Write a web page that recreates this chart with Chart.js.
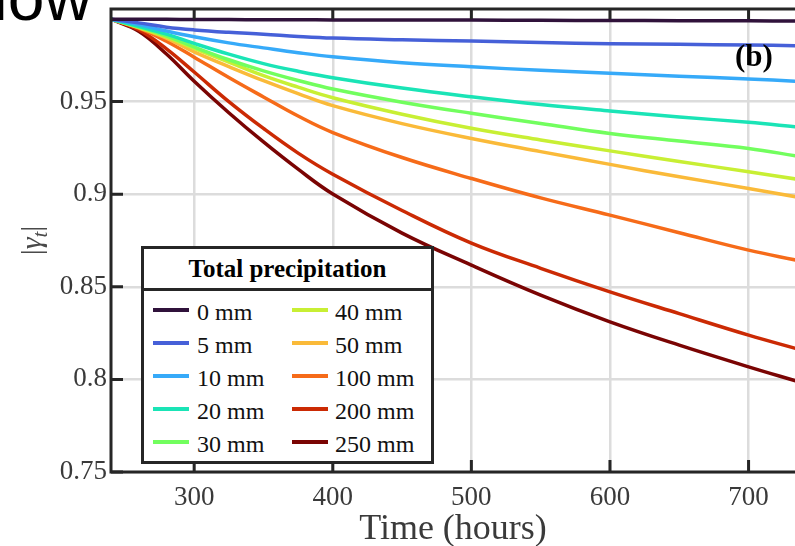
<!DOCTYPE html>
<html>
<head>
<meta charset="utf-8">
<script src="https://cdn.jsdelivr.net/npm/chart.js@4.4.1/dist/chart.umd.min.js"></script>
<style>
  body { margin: 0; background: #fff; overflow: hidden; }
  #wrap { position: relative; width: 795px; height: 546px; overflow: hidden; }
  #cut { position: absolute; left: -7px; top: -36px; font: 66px/66px "Liberation Sans", Arial, sans-serif; color: #000; }
  #legend { position: absolute; left: 141px; top: 246px; width: 287px; height: 212px;
            border: 3px solid #262626; background: #fff; font-family: "Liberation Serif", "Times New Roman", serif; }
  #legend .ttl { position: absolute; left: 0; top: 0; width: 100%; height: 39px; border-bottom: 3px solid #262626;
                 font-weight: bold; font-size: 25px; line-height: 39px; text-align: center; color: #000; }
  #legend .sw { position: absolute; width: 36px; height: 4px; }
  #legend .lb { position: absolute; font-size: 24px; line-height: 24px; color: #111; white-space: nowrap; }
</style>
</head>
<body>
<div id="wrap">
  <div id="cut">low</div>
  <canvas id="chart" width="795" height="546"></canvas>
  <div id="legend"></div>
</div>
<script>
// time axis (hours) shared by every curve
const hours = [240, 260, 280, 300, 325, 350, 375, 400, 450, 500, 550, 600, 650, 700, 735];

// |gamma_t|, one array per total precipitation
const gamma0mm   = [0.9945, 0.9944, 0.9944, 0.9943, 0.9943, 0.9942, 0.9942, 0.9941, 0.9940, 0.9940, 0.9939, 0.9938, 0.9937, 0.9936, 0.9935];
const gamma5mm   = [0.9945, 0.9925, 0.9902, 0.9887, 0.9874, 0.9864, 0.9852, 0.9843, 0.9834, 0.9827, 0.9819, 0.9813, 0.9809, 0.9806, 0.9802];
const gamma10mm  = [0.9945, 0.9916, 0.9881, 0.9850, 0.9817, 0.9790, 0.9764, 0.9742, 0.9710, 0.9688, 0.9669, 0.9653, 0.9637, 0.9622, 0.9610];
const gamma20mm  = [0.9945, 0.9906, 0.9864, 0.9814, 0.9756, 0.9705, 0.9664, 0.9629, 0.9573, 0.9526, 0.9484, 0.9449, 0.9417, 0.9388, 0.9363];
const gamma30mm  = [0.9945, 0.9903, 0.9855, 0.9795, 0.9726, 0.9666, 0.9614, 0.9568, 0.9497, 0.9437, 0.9382, 0.9328, 0.9287, 0.9247, 0.9206];
const gamma40mm  = [0.9945, 0.9901, 0.9850, 0.9787, 0.9713, 0.9640, 0.9578, 0.9521, 0.9432, 0.9356, 0.9293, 0.9234, 0.9177, 0.9121, 0.9081];
const gamma50mm  = [0.9945, 0.9899, 0.9843, 0.9768, 0.9689, 0.9613, 0.9543, 0.9478, 0.9381, 0.9301, 0.9230, 0.9161, 0.9094, 0.9031, 0.8985];
const gamma100mm = [0.9945, 0.9897, 0.9826, 0.9740, 0.9630, 0.9525, 0.9422, 0.9333, 0.9198, 0.9085, 0.8980, 0.8887, 0.8792, 0.8698, 0.8643];
const gamma200mm = [0.9945, 0.9888, 0.9785, 0.9660, 0.9500, 0.9355, 0.9222, 0.9108, 0.8912, 0.8736, 0.8600, 0.8473, 0.8355, 0.8239, 0.8165];
const gamma250mm = [0.9945, 0.9880, 0.9757, 0.9610, 0.9440, 0.9282, 0.9135, 0.9001, 0.8790, 0.8617, 0.8455, 0.8311, 0.8185, 0.8068, 0.7990];

const seriesLabels = ['0 mm', '5 mm', '10 mm', '20 mm', '30 mm', '40 mm', '50 mm', '100 mm', '200 mm', '250 mm'];
const seriesValues = [gamma0mm, gamma5mm, gamma10mm, gamma20mm, gamma30mm, gamma40mm, gamma50mm, gamma100mm, gamma200mm, gamma250mm];

const xTicks = [300, 400, 500, 600, 700];
const yTicks = [0.75, 0.8, 0.85, 0.9, 0.95];

// turbo-like colours, same order as the labels
const lineColors = ['#30123b', '#4660d8', '#36aaf9', '#1ae4b6', '#72fe5e', '#c8ef34', '#faba39', '#f66b19', '#cb2a04', '#7a0403'];

const SERIF = '"Liberation Serif", "Times New Roman", serif';
const AXIS = '#262626';

// frame, inward ticks, y title and panel tag
const framePlugin = {
    id: 'frame',
    afterDraw(chart) {
        const { ctx, chartArea: a } = chart;
        const xs = chart.scales.x, ys = chart.scales.y;
        ctx.save();
        ctx.strokeStyle = AXIS;
        ctx.lineWidth = 3;
        ctx.beginPath();
        ctx.moveTo(a.right + 2, a.top);
        ctx.lineTo(a.left, a.top);
        ctx.lineTo(a.left, a.bottom);
        ctx.lineTo(a.right + 2, a.bottom);
        ctx.stroke();
        ctx.beginPath();
        xTicks.forEach(v => {
            const px = xs.getPixelForValue(v);
            ctx.moveTo(px, a.bottom); ctx.lineTo(px, a.bottom - 12);
            ctx.moveTo(px, a.top); ctx.lineTo(px, a.top + 10);
        });
        yTicks.forEach(v => {
            const py = ys.getPixelForValue(v);
            ctx.moveTo(a.left, py); ctx.lineTo(a.left + 12, py);
        });
        ctx.stroke();

        // y axis title |γ_t|
        ctx.translate(32, (a.top + a.bottom) / 2);
        ctx.rotate(-Math.PI / 2);
        ctx.fillStyle = '#4a4a4a';
        ctx.textBaseline = 'alphabetic';
        const parts = [
            { t: '|', f: '30px ' + SERIF, dy: 0 },
            { t: 'γ', f: 'italic 30px ' + SERIF, dy: 0 },
            { t: 't', f: 'italic 21px ' + SERIF, dy: 6 },
            { t: '|', f: '30px ' + SERIF, dy: 0 }
        ];
        let w = 0;
        parts.forEach(p => { ctx.font = p.f; p.w = ctx.measureText(p.t).width; w += p.w; });
        let x = -w / 2;
        parts.forEach(p => { ctx.font = p.f; ctx.fillText(p.t, x, 9 + p.dy); x += p.w; });
        ctx.restore();

        // panel tag
        ctx.save();
        ctx.font = 'bold 31px ' + SERIF;
        ctx.fillStyle = '#000';
        ctx.fillText('(b)', 735, 66);
        ctx.restore();
    }
};

const chart = new Chart(document.getElementById('chart'), {
    type: 'line',
    data: {
        datasets: seriesValues.map((vals, i) => ({
            label: seriesLabels[i],
            data: hours.map((t, j) => ({ x: t, y: vals[j] })),
            borderColor: lineColors[i],
            backgroundColor: lineColors[i],
            borderWidth: 3.5,
            pointRadius: 0,
            tension: 0.4,
            fill: false
        }))
    },
    options: {
        responsive: false,
        animation: false,
        layout: { padding: { top: 9, left: 0, right: 0, bottom: 0 } },
        plugins: {
            legend: { display: false },
            tooltip: { enabled: false }
        },
        scales: {
            x: {
                type: 'linear',
                min: 240,
                max: 733.5,
                afterBuildTicks: s => { s.ticks = xTicks.map(v => ({ value: v })); },
                afterFit: s => { s.height = 74; s.paddingLeft = 0; s.paddingRight = 0; },
                grid: { color: '#dcdcdc', lineWidth: 2.5, drawTicks: false },
                border: { display: false },
                ticks: { color: '#3a3a3a', font: { family: SERIF, size: 27 }, padding: 10, maxRotation: 0, autoSkip: false },
                title: { display: true, text: 'Time (hours)', color: '#3a3a3a', font: { family: SERIF, size: 36 }, padding: { top: 0, bottom: -5 } }
            },
            y: {
                min: 0.75,
                max: 1.0,
                afterBuildTicks: s => { s.ticks = yTicks.map(v => ({ value: v })); },
                afterFit: s => { s.width = 111; s.paddingTop = 0; s.paddingBottom = 0; },
                grid: { color: '#dcdcdc', lineWidth: 2.5, drawTicks: false },
                border: { display: false },
                ticks: { color: '#3a3a3a', font: { family: SERIF, size: 27 }, padding: 4, callback: v => String(v) }
            }
        }
    },
    plugins: [framePlugin]
});

// legend box drawn over the plot, built from the datasets
const legend = document.getElementById('legend');
const ttl = document.createElement('div');
ttl.className = 'ttl';
ttl.textContent = 'Total precipitation';
legend.appendChild(ttl);
chart.data.datasets.forEach((ds, i) => {
    const col = Math.floor(i / 5), row = i % 5;
    const cy = 61 + 33 * row;
    const sw = document.createElement('div');
    sw.className = 'sw';
    sw.style.left = (col ? 148 : 9) + 'px';
    sw.style.top = (cy - 2) + 'px';
    sw.style.background = ds.borderColor;
    legend.appendChild(sw);
    const lb = document.createElement('div');
    lb.className = 'lb';
    lb.style.left = (col ? 191 : 53) + 'px';
    lb.style.top = (cy - 10) + 'px';
    lb.textContent = ds.label;
    legend.appendChild(lb);
});
</script>
</body>
</html>
